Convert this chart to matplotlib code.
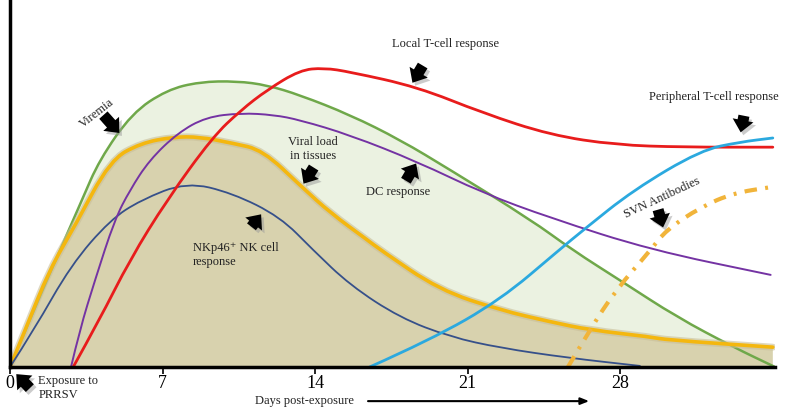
import matplotlib
matplotlib.use("Agg")
import matplotlib.pyplot as plt
from matplotlib.path import Path
from matplotlib.patches import PathPatch

# ---------------------------------------------------------------------------
# Data (days post-exposure, relative response 0-100)
# ---------------------------------------------------------------------------

viremia_days = [0, 0.9, 2.1, 3.3, 4.1, 5.6, 7.2, 8.7, 10.4, 11.8, 13.3, 15.6,
                17.9, 20.2, 23.9, 25.8, 28.1, 30.6, 33.2, 35.1]
viremia_vals = [0, 12.8, 29.2, 45.5, 56.4, 69.2, 75.5, 77.7, 77.9, 76.8, 74.1,
                68.7, 61.9, 53.7, 40.1, 31.9, 23.2, 13.6, 5.4, 0]

tissue_days = [0, 0.7, 1.8, 3.0, 4.6, 6.0, 7.5, 8.7, 10.2, 11.6, 13.4, 14.7,
               16.4, 17.0, 19.7, 22.5, 24.8, 26.6, 29.4, 30.1, 35.0]
tissue_vals = [0, 10.1, 26.4, 38.7, 56.4, 61.0, 62.7, 62.7, 61.0, 59.1, 49.0,
               42.0, 34.6, 31.9, 21.0, 15.5, 12.3, 10.1, 8.2, 7.4, 5.4]

nk_days = [0, 1.1, 2.8, 4.6, 6.0, 8.1, 10.2, 12.4, 13.9, 15.6, 17.9, 20.2,
           22.5, 25.6, 28.9]
nk_vals = [0, 10.1, 27.8, 40.1, 45.5, 50.4, 47.4, 40.9, 31.9, 22.3, 13.4, 8.2,
           5.2, 2.5, 0.3]

dc_days = [2.8, 3.2, 3.9, 4.8, 5.5, 6.4, 7.7, 9.0, 10.6, 12.1, 13.3, 15.6,
           18.7, 21.7, 24.8, 29.4, 34.9]
dc_vals = [0, 10.1, 23.7, 40.1, 48.2, 56.4, 63.8, 68.1, 69.2, 68.7, 67.3, 63.2,
           55.9, 47.4, 40.6, 31.9, 25.1]

local_t_days = [2.9, 4.1, 5.5, 7.2, 9.3, 10.6, 11.8, 13.3, 14.4, 15.6, 18.7,
                21.7, 24.8, 27.8, 30.9, 35.0]
local_t_vals = [0, 12.8, 29.2, 45.5, 62.7, 70.0, 75.5, 80.9, 81.5, 80.4, 76.3,
                69.2, 63.2, 60.5, 59.9, 59.9]

periph_t_days = [16.5, 19.3, 22.5, 25.2, 26.3, 28.6, 31.7, 33.5, 35.0]
periph_t_vals = [0, 7.4, 18.3, 31.9, 37.3, 48.2, 59.1, 61.3, 62.4]

svn_days = [25.6, 26.6, 27.8, 29.4, 30.1, 31.7, 33.2, 34.9]
svn_vals = [0, 10.1, 21.0, 31.9, 37.3, 43.6, 47.4, 49.0]

day_ticks = [0, 7, 14, 21, 28]

# annotations: (text, x, y, rotation, ha)
labels = [
    ("Viremia", 4.0, 69.2, 38, "center"),
    ("Local T-cell response", 20.0, 88.0, 0, "center"),
    ("Peripheral T-cell response", 32.3, 73.6, 0, "center"),
    ("DC response", 17.8, 47.7, 0, "center"),
    ("Viral load\nin tissues", 13.9, 59.4, 0, "center"),
    ("NKp46\u207a NK cell\nresponse", 8.4, 30.5, 0, "left"),
    ("SVN Antibodies", 29.9, 46.0, 25, "center"),
]

# block arrows: (tail x, tail y, tip x, tip y)
arrows = [
    (4.2, 69.2, 5.1, 63.2),
    (19.0, 82.8, 18.4, 76.8),
    (33.7, 69.2, 33.5, 63.2),
    (18.1, 50.1, 18.7, 56.1),
    (14.0, 55.0, 13.4, 49.3),
    (11.0, 37.6, 11.6, 42.2),
    (29.7, 43.6, 30.0, 37.3),
    (1.0, -6.3, 0.2, -1.4),
]

SERIF = ["Liberation Serif", "DejaVu Serif"]


def smooth_path(xs, ys, close_to_base=False):
    """Quadratic Bezier path using the read points as control points."""
    pts = list(zip(xs, ys))
    verts = [pts[0]]
    codes = [Path.MOVETO]
    for i in range(1, len(pts) - 1):
        mid = ((pts[i][0] + pts[i + 1][0]) / 2, (pts[i][1] + pts[i + 1][1]) / 2)
        verts += [pts[i], mid]
        codes += [Path.CURVE3, Path.CURVE3]
    verts.append(pts[-1])
    codes.append(Path.LINETO)
    if close_to_base:
        verts += [(xs[-1], 0), (xs[0], 0), pts[0]]
        codes += [Path.LINETO, Path.LINETO, Path.CLOSEPOLY]
    return Path(verts, codes)


def curve(ax, xs, ys, **kw):
    ax.add_patch(PathPatch(smooth_path(xs, ys), fill=False,
                           capstyle="round", **kw))


def area(ax, xs, ys, color, zorder):
    ax.add_patch(PathPatch(smooth_path(xs, ys, close_to_base=True),
                           fc=color, ec="none", zorder=zorder))


def block_arrow(ax, x0, y0, x1, y1):
    style = "simple,head_length=0.55,head_width=0.95,tail_width=0.5"
    # soft shadow first
    ax.annotate("", xy=(x1 + 0.12, y1 - 0.8), xytext=(x0 + 0.12, y0 - 0.8),
                arrowprops=dict(arrowstyle=style, fc="#999999", ec="none",
                                alpha=0.5, mutation_scale=16),
                annotation_clip=False)
    ax.annotate("", xy=(x1, y1), xytext=(x0, y0),
                arrowprops=dict(arrowstyle=style, fc="black", ec="none",
                                mutation_scale=16),
                annotation_clip=False)


fig = plt.figure(figsize=(7.86, 4.16), dpi=100)
ax = fig.add_axes([10 / 786, 49 / 416, 765 / 786, 367 / 416])
ax.set_xlim(0, 35.1)
ax.set_ylim(0, 100)

# ---- shaded areas ----
area(ax, viremia_days, viremia_vals, "#EBF2E1", 1)
area(ax, tissue_days, tissue_vals, "#D8D2AE", 2)

# ---- curves ----
curve(ax, viremia_days, viremia_vals, ec="#6FA84A", lw=1.8, zorder=3)
curve(ax, tissue_days, tissue_vals, ec="#C9BF98", lw=5, alpha=0.6, zorder=3)
curve(ax, tissue_days, tissue_vals, ec="#F4B70F", lw=2.6, zorder=4)
curve(ax, nk_days, nk_vals, ec="#36508A", lw=1.3, zorder=5)
curve(ax, dc_days, dc_vals, ec="#7433A3", lw=1.4, zorder=5)
curve(ax, local_t_days, local_t_vals, ec="#E81C1C", lw=2.0, zorder=6)
curve(ax, periph_t_days, periph_t_vals, ec="#2BA9DF", lw=2.0, zorder=6)
ax.add_patch(PathPatch(smooth_path(svn_days, svn_vals), fill=False,
                       ec="#F1B43A", lw=3, linestyle=(0, (3, 2, 0.7, 2)),
                       zorder=6))

# ---- labels and arrows ----
for text, x, y, rot, ha in labels:
    ax.text(x, y, text, rotation=rot, ha=ha, va="center", fontsize=9,
            family=SERIF, color="#222222", linespacing=1.3, zorder=8)
for x0, y0, x1, y1 in arrows:
    block_arrow(ax, x0, y0, x1, y1)

ax.text(1.3, -5.8, "Exposure to\nPRRSV", ha="left", va="center", fontsize=9,
        family=SERIF, color="#222222", linespacing=1.2, clip_on=False)

# ---- axes ----
for side in ("top", "right"):
    ax.spines[side].set_visible(False)
ax.spines["left"].set_linewidth(2.5)
ax.spines["bottom"].set_linewidth(2.5)
ax.spines["left"].set_zorder(9)
ax.spines["bottom"].set_zorder(9)
ax.set_xticks(day_ticks)
ax.set_xticklabels([str(d) for d in day_ticks], family=SERIF, fontsize=13)
ax.tick_params(axis="x", direction="out", length=5, width=1.2, pad=1)
ax.set_yticks([])

ax.text(13.5, -9.3, "Days post-exposure", ha="center", va="center",
        fontsize=9, family=SERIF, color="#222222", clip_on=False)
ax.annotate("", xy=(26.7, -9.3), xytext=(16.3, -9.3),
            arrowprops=dict(arrowstyle="-|>,head_length=0.5,head_width=0.2",
                            color="black", lw=1.5),
            annotation_clip=False)

fig.savefig("out.png", dpi=100)
